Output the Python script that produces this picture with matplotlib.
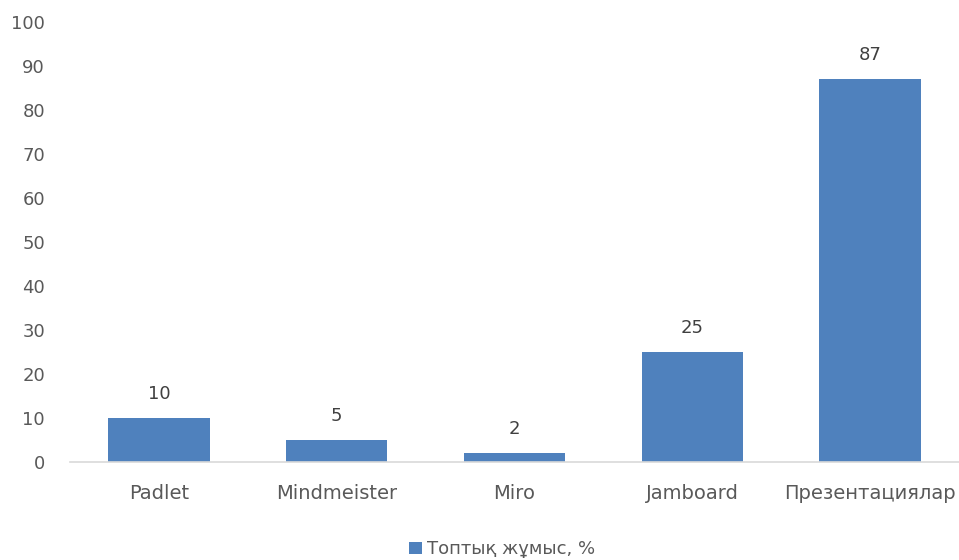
import matplotlib
matplotlib.use("Agg")
import matplotlib.pyplot as plt

# Data
categories = ["Padlet", "Mindmeister", "Miro", "Jamboard", "Презентациялар"]
values = [10, 5, 2, 25, 87]
series_name = "Топтық жұмыс, %"

plt.rcParams['font.family'] = ['DejaVu Sans']
text_color = "#595959"
bar_color = "#4F81BD"

fig = plt.figure(figsize=(9.59, 5.6), dpi=100)
ax = fig.add_axes([0.073, 0.175, 0.927, 0.786])

x = list(range(len(categories)))
bars = ax.bar(x, values, width=0.57, color=bar_color, label=series_name, zorder=2)

for xi, v in zip(x, values):
    ax.annotate(str(v), (xi, v), xytext=(0, 11), textcoords="offset points",
                ha="center", va="bottom", fontsize=13, color="#404040")

ax.set_xlim(-0.5, len(categories) - 0.5)
ax.set_ylim(0, 100)
ax.set_yticks(range(0, 101, 10))
ax.set_xticks(x)
ax.set_xticklabels(categories)

for side in ["top", "right", "left"]:
    ax.spines[side].set_visible(False)
ax.spines["bottom"].set_color("#D9D9D9")
ax.spines["bottom"].set_linewidth(1.2)
ax.tick_params(axis="both", length=0, colors=text_color, labelsize=13)
ax.tick_params(axis="x", pad=16, labelsize=14)
ax.tick_params(axis="y", pad=18)

fig.legend(handles=[bars], labels=[series_name], loc="lower center",
           bbox_to_anchor=(0.524, -0.026), frameon=False, fontsize=13,
           handlelength=0.7, handleheight=0.7, handletextpad=0.3,
           labelcolor=text_color)

fig.savefig("out.png", dpi=100)
